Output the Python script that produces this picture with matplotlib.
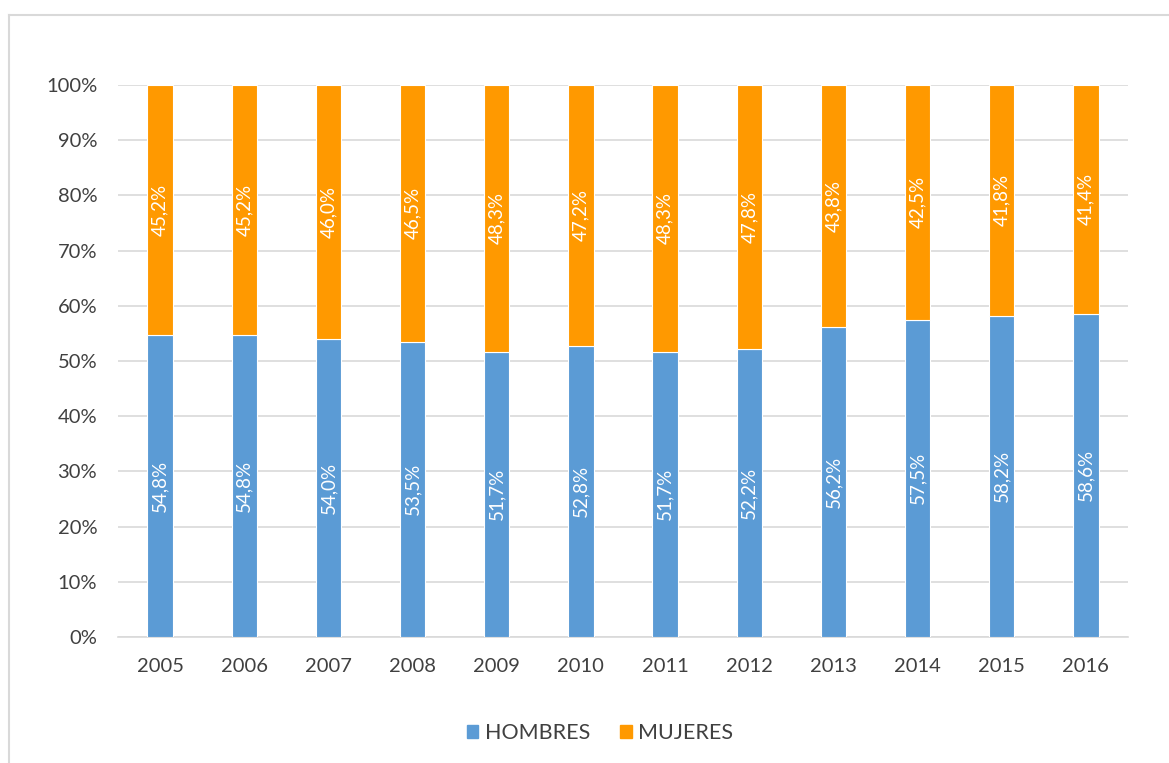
"""Stacked 100% bar chart: hombres vs mujeres, 2005-2016."""

import matplotlib

matplotlib.use("Agg")

import matplotlib.pyplot as plt
import numpy as np
from matplotlib.lines import Line2D
from matplotlib.patches import Patch

years = ["2005", "2006", "2007", "2008", "2009", "2010",
         "2011", "2012", "2013", "2014", "2015", "2016"]
hombres = [54.8, 54.8, 54.0, 53.5, 51.7, 52.8, 51.7, 52.2, 56.2, 57.5, 58.2, 58.6]
mujeres = [45.2, 45.2, 46.0, 46.5, 48.3, 47.2, 48.3, 47.8, 43.8, 42.5, 41.8, 41.4]
series_names = ["HOMBRES", "MUJERES"]

BLUE = "#5B9BD5"
ORANGE = "#FF9900"
TEXT = "#404040"
GRID = "#D9D9D9"

plt.rcParams["font.family"] = ["Lato", "DejaVu Sans"]

W, H = 1169, 763
fig = plt.figure(figsize=(W / 100, H / 100), dpi=100)
ax = fig.add_axes([118 / W, 1 - 637 / H, (1128 - 118) / W, (637 - 85) / H])

x = np.arange(len(years))
width = 0.3
ax.bar(x, hombres, width, color=BLUE, edgecolor="white", linewidth=0.8, zorder=3)
ax.bar(x, mujeres, width, bottom=hombres, color=ORANGE, edgecolor="white",
       linewidth=0.8, zorder=3)

def fmt(v):
    return f"{v:.1f}%".replace(".", ",")

for xi, h, m in zip(x, hombres, mujeres):
    ax.text(xi, h / 2, fmt(h), rotation=90, ha="center", va="center",
            color="white", fontsize=13.5, zorder=4)
    ax.text(xi, h + m / 2, fmt(m), rotation=90, ha="center", va="center",
            color="white", fontsize=13.5, zorder=4)

ax.set_xlim(-0.5, len(years) - 0.5)
ax.set_ylim(0, 100)
ax.set_yticks(np.arange(0, 101, 10))
ax.set_yticklabels([f"{v}%" for v in range(0, 101, 10)])
ax.set_xticks(x)
ax.set_xticklabels(years)
ax.tick_params(axis="both", length=0, labelsize=14.5, colors=TEXT)
ax.tick_params(axis="x", pad=15)
ax.tick_params(axis="y", pad=15)
ax.grid(axis="y", color=GRID, linewidth=1.2, zorder=0)
for side in ["top", "right", "left"]:
    ax.spines[side].set_visible(False)
ax.spines["bottom"].set_color(GRID)
ax.spines["bottom"].set_linewidth(1.2)

handles = [Patch(color=BLUE), Patch(color=ORANGE)]
fig.legend(handles, series_names, loc="center", bbox_to_anchor=(600 / W, 1 - 733 / H),
           ncol=2, frameon=False, fontsize=15.5, handlelength=0.55, handleheight=0.55,
           handletextpad=0.3, columnspacing=1.4, labelcolor=TEXT)

# chart frame (only left and top edges visible in crop)
fig.add_artist(Line2D([8.5 / W, 8.5 / W], [0, 1 - 14.5 / H], transform=fig.transFigure,
                      color=GRID, linewidth=1.5))
fig.add_artist(Line2D([8.5 / W, 1], [1 - 14.5 / H, 1 - 14.5 / H], transform=fig.transFigure,
                      color=GRID, linewidth=1.5))

fig.savefig("out.png", dpi=100)
